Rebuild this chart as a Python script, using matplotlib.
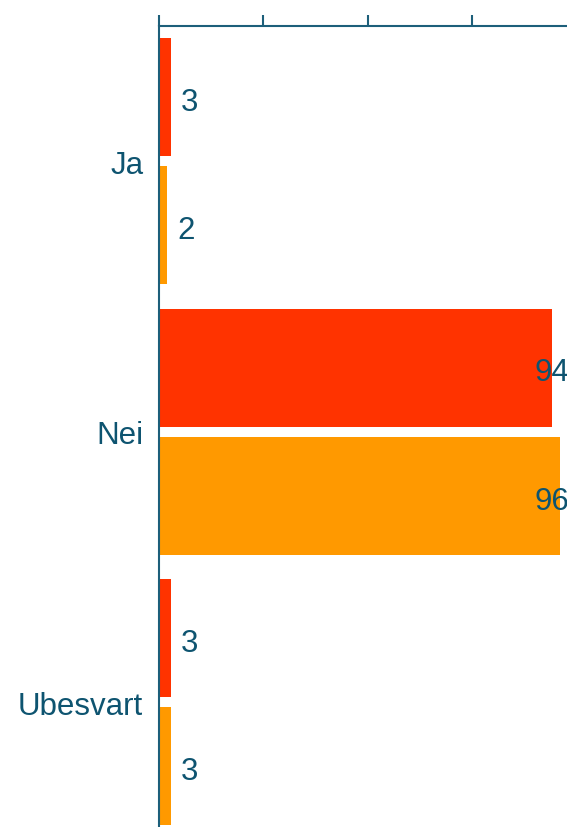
import numpy as np
import matplotlib
matplotlib.use("Agg")
import matplotlib.pyplot as plt

plt.rcParams['font.family'] = ['Liberation Sans', 'DejaVu Sans']

# data
categories = ["Ja", "Nei", "Ubesvart"]
serie_a = [3, 94, 3]   # rød
serie_b = [2, 96, 3]   # oransje
ticks = [0, 25, 50, 75, 100]

red = "#ff3300"
orange = "#ff9900"
txt = "#0e5470"
axcol = "#1d5f7a"

fig = plt.figure(figsize=(5.67, 8.28), dpi=100)
ax = fig.add_axes([158.5 / 567, 0.0, 1 - 158.5 / 567, 1 - 27 / 828])

y = np.arange(len(categories))
h = 0.436
off = 0.237
ax.barh(y - off, serie_a, height=h, color=red)
ax.barh(y + off, serie_b, height=h, color=orange)

ax.xaxis.tick_top()
ax.set_xticks(ticks)
ax.set_xticklabels([])
ax.tick_params(axis='x', direction='out', length=8, width=1.5, color=axcol)

xmax = 97.7
ax.set_xlim(0, xmax)
ax.set_ylim(2.462, -0.5)

# verdier (store tall legges ved kanten, som i originalen)
for yy, vals in ((y - off, serie_a), (y + off, serie_b)):
    for yi, v in zip(yy, vals):
        xpos = min(v + 2.4, xmax - 7.8)
        ax.text(xpos, yi + 0.005, str(v), ha='left', va='center_baseline',
                fontsize=22.5, color=txt, clip_on=False)

ax.set_yticks(y)
ax.set_yticklabels(categories, fontsize=22.5, color=txt, va='center_baseline')
ax.tick_params(axis='y', length=0, pad=11)

for s in ['right', 'bottom']:
    ax.spines[s].set_visible(False)
for s in ['top', 'left']:
    ax.spines[s].set_color(axcol)
    ax.spines[s].set_linewidth(1.5)

fig.savefig("out.png", dpi=100)
